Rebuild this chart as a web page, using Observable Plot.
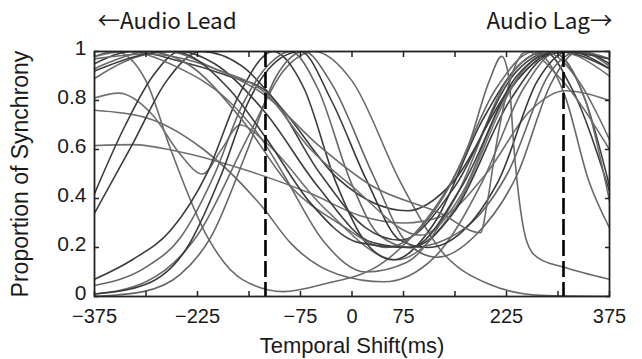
<!DOCTYPE html>
<html>
<head>
<meta charset="utf-8">
<script src="https://cdn.jsdelivr.net/npm/d3@7"></script>
<script src="https://cdn.jsdelivr.net/npm/@observablehq/plot@0.6"></script>
<style>
  html, body { margin: 0; padding: 0; background: #fff; }
  svg { display: block; }
</style>
</head>
<body>
<div id="chart"></div>
<script>
// ---- data ----
const xTicks = [-375, -300, -225, -150, -75, 0, 75, 150, 225, 300, 375];
const xLabelTicks = [-375, -225, -75, 0, 75, 225, 375];
const xLabelText = ["\u2212375", "\u2212225", "\u221275", "0", "75", "225", "375"];
const yTicks = [0, 0.2, 0.4, 0.6, 0.8, 1];
const yLabelText = ["0", "0.2", "0.4", "0.6", "0.8", "1"];
const refLines = [-126, 308];
const xTitle = "Temporal Shift(ms)";
const yTitle = "Proportion of Synchrony";
const leadNote = "\u2190Audio Lead";
const lagNote = "Audio Lag\u2192";

const curve01 = [[-375,0.01],[-300,0.06],[-225,0.25],[-150,0.66],[-100,0.92],[-55,1.0],[0,0.88],[70,0.47],[129,0.19],[200,0.05],[275,0.005],[375,0]];
const curve02 = [[-375,0.98],[-345,1.0],[-300,0.88],[-264,0.6],[-210,0.24],[-160,0.07],[-100,0.02],[-42,0.05],[46,0.14],[145,0.47],[210,0.85],[265,1.0],[310,0.82],[345,0.47],[375,0.28]];
const curve03 = [[-375,0.616],[-320,0.62],[-250,0.59],[-148,0.51],[-60,0.42],[12,0.33],[75,0.30],[133,0.33],[195,0.5],[260,0.76],[310,0.84],[375,0.80]];
const curve04 = [[-375,0.76],[-300,0.73],[-216,0.6],[-129,0.36],[-90,0.22],[-20,0.09],[46,0.06],[120,0.16],[190,0.47],[250,0.85],[300,1.0],[375,0.97]];
const curve05 = [[-375,0.81],[-340,0.83],[-290,0.74],[-250,0.58],[-218,0.5],[-190,0.6],[-163,0.7],[-126,0.63],[-40,0.36],[65,0.15],[150,0.36],[240,0.88],[300,1.0],[375,0.9]];
const curve06 = [[-375,0.42],[-330,0.7],[-290,0.9],[-250,1.0],[-200,0.95],[-126,0.75],[-50,0.45],[30,0.22],[85,0.20],[150,0.35],[230,0.8],[290,0.99],[330,1.0],[375,0.95]];
const curve07 = [[-375,0.34],[-320,0.62],[-270,0.88],[-220,1.0],[-160,0.94],[-100,0.76],[-20,0.48],[81,0.35],[148,0.47],[230,0.85],[300,1.0],[375,0.93]];
const curve08 = [[-375,0.07],[-320,0.15],[-264,0.27],[-210,0.51],[-165,0.82],[-115,1.0],[-70,0.85],[-24,0.47],[20,0.22],[60,0.15],[120,0.3],[190,0.72],[245,0.95],[280,1.0],[320,0.85],[375,0.43]];
const curve09 = [[-375,0.045],[-300,0.12],[-250,0.24],[-200,0.5],[-160,0.78],[-120,0.95],[-90,1.0],[-50,0.85],[-2,0.47],[40,0.25],[85,0.2],[160,0.27],[226,0.5],[290,0.92],[330,1.0],[375,0.97]];
const curve10 = [[-375,0.01],[-300,0.05],[-240,0.2],[-190,0.5],[-150,0.8],[-100,0.98],[-75,1.0],[-30,0.8],[22,0.47],[70,0.23],[110,0.2],[213,0.47],[270,0.88],[315,1.0],[375,0.93]];
const curve11 = [[-375,0.0],[-304,0.02],[-250,0.09],[-206,0.24],[-152,0.6],[-110,0.9],[-70,1.0],[-30,0.87],[30,0.5],[80,0.22],[124,0.16],[180,0.25],[241,0.5],[290,0.87],[330,1.0],[375,0.94]];
const curve12 = [[-375,0.98],[-330,1.0],[-250,0.93],[-180,0.8],[-126,0.62],[-100,0.5],[-40,0.22],[20,0.1],[80,0.14],[150,0.4],[230,0.9],[280,1.0],[330,0.88],[375,0.64]];
const curve13 = [[-375,0.95],[-320,1.0],[-250,0.96],[-180,0.9],[-126,0.84],[-46,0.5],[20,0.28],[70,0.23],[150,0.45],[240,0.92],[290,1.0],[340,0.8],[375,0.45]];
const curve14 = [[-375,0.89],[-330,0.96],[-270,1.0],[-200,0.93],[-126,0.83],[-60,0.6],[0,0.45],[100,0.25],[160,0.42],[220,0.8],[290,1.0],[340,0.8],[375,0.39]];
const curve15 = [[-375,0.97],[-300,0.99],[-200,0.93],[-126,0.82],[-50,0.62],[30,0.45],[129,0.34],[187,0.26],[198,0.4],[209,0.6],[230,0.88],[255,1.0],[300,0.9],[375,0.6]];
const curve16 = [[-375,0.93],[-340,0.97],[-300,1.0],[-240,0.95],[-160,0.72],[-90,0.45],[-20,0.3],[50,0.2],[120,0.35],[170,0.62],[200,0.88],[218,0.98],[228,0.9],[236,0.6],[255,0.22],[270,0.16],[308,0.12],[375,0.07]];
const curve17 = [[-375,0.92],[-300,0.99],[-260,1.0],[-180,0.85],[-126,0.65],[-60,0.38],[10,0.22],[85,0.2],[160,0.45],[240,0.9],[300,1.0],[375,0.97]];

const curves = [curve01, curve02, curve03, curve04, curve05, curve06, curve07, curve08, curve09,
                curve10, curve11, curve12, curve13, curve14, curve15, curve16, curve17];
// stroke tone per curve (style only)
const tones = ["#6a6a6a", "#6a6a6a", "#707070", "#6a6a6a", "#727272", "#3c3c3c", "#3a3a3a", "#3c3c3c", "#666666",
               "#383838", "#656565", "#6a6a6a", "#404040", "#6e6e6e", "#6a6a6a", "#686868", "#3e3e3e"];

const rows = curves.flatMap((pts, i) => pts.map(([x, y]) => ({x, y, id: i, tone: tones[i]})));
const xLabelMap = new Map(xLabelTicks.map((t, i) => [t, xLabelText[i]]));
const yLabelMap = new Map(yTicks.map((t, i) => [t, yLabelText[i]]));

const axisColor = "#222";
const ink = "#1a1a1a";
const noteFont = "'Noto Sans CJK JP', 'Liberation Sans', sans-serif";
const chart = Plot.plot({
  width: 642,
  height: 359,
  marginLeft: 94,
  marginRight: 33,
  marginTop: 51,
  marginBottom: 63,
  style: {fontFamily: "'Liberation Sans', Arial, sans-serif", fontSize: "21px", color: ink, background: "#fff"},
  x: {domain: [-375, 375]},
  y: {domain: [0, 1]},
  color: {type: "identity"},
  marks: [
    Plot.line(rows, {x: "x", y: "y", z: "id", stroke: "tone", strokeWidth: 1.6, curve: "monotone-x", clip: true}),
    Plot.ruleX(refLines, {stroke: "#000", strokeWidth: 2.6, strokeDasharray: "16,5"}),
    Plot.frame({stroke: axisColor, strokeWidth: 1.8}),
    // inward tick marks on all four sides
    Plot.axisX({anchor: "bottom", ticks: xTicks, tickSize: -5, tickFormat: () => "", label: null, stroke: axisColor, strokeWidth: 1.5}),
    Plot.axisX({anchor: "top", ticks: xTicks, tickSize: -5, tickFormat: () => "", label: null, stroke: axisColor, strokeWidth: 1.5}),
    Plot.axisY({anchor: "left", ticks: yTicks, tickSize: -5, tickFormat: () => "", label: null, stroke: axisColor, strokeWidth: 1.5}),
    Plot.axisY({anchor: "right", ticks: yTicks, tickSize: -5, tickFormat: () => "", label: null, stroke: axisColor, strokeWidth: 1.5}),
    // tick labels
    Plot.axisX({anchor: "bottom", ticks: xLabelTicks, tickSize: 0, tickPadding: 12.5, tickFormat: d => xLabelMap.get(d), label: null, fontSize: 20, fill: ink}),
    Plot.axisY({anchor: "left", ticks: yTicks, tickSize: 0, tickPadding: 8, dy: -3, tickFormat: d => yLabelMap.get(d), label: null, fontSize: 21, fill: ink}),
    // titles and notes
    Plot.text([xTitle], {text: d => d, frameAnchor: "bottom", lineAnchor: "middle", dy: 49, fontSize: 22, fill: ink}),
    Plot.text([yTitle], {text: d => d, frameAnchor: "left", textAnchor: "middle", lineAnchor: "middle", rotate: -90, dx: -74, fontSize: 23, fill: ink}),
    Plot.text([leadNote], {text: d => d, frameAnchor: "top-left", textAnchor: "start", lineAnchor: "middle", dx: 3, dy: -30, fontSize: 22.5, fontFamily: noteFont, fill: ink}),
    Plot.text([lagNote], {text: d => d, frameAnchor: "top-right", textAnchor: "end", lineAnchor: "middle", dx: 3, dy: -30, fontSize: 22.5, fontFamily: noteFont, fill: ink})
  ]
});
document.getElementById("chart").appendChild(chart);
</script>
</body>
</html>
